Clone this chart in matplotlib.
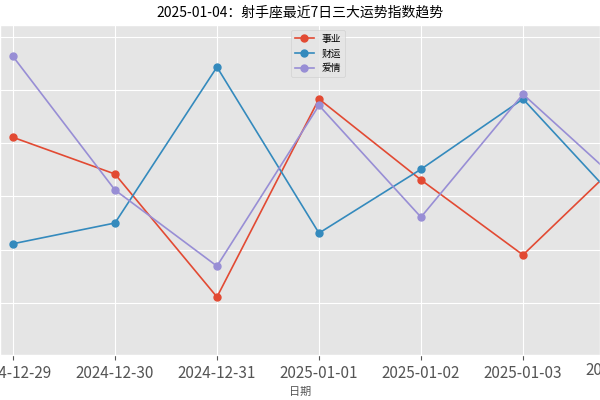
import matplotlib
matplotlib.use('Agg')
import matplotlib.pyplot as plt
import matplotlib.transforms as mtransforms

plt.style.use('ggplot')
plt.rcParams['font.family'] = ['Noto Sans CJK SC', 'DejaVu Sans']
plt.rcParams['axes.unicode_minus'] = False

dates = ['2024-12-29','2024-12-30','2024-12-31','2025-01-01','2025-01-02','2025-01-03','2025-01-04']
career = [91.1, 84.2, 61.1, 98.3, 83.1, 69.0, 87.4]
wealth = [71.1, 75.0, 104.3, 73.1, 85.1, 98.3, 77.6]
love = [106.3, 81.2, 66.9, 97.1, 76.1, 99.2, 81.8]

fig = plt.figure(figsize=(6, 4), dpi=100)
ax = fig.add_axes([0, 0.1125, 1.0, 0.825])
x = list(range(len(dates)))
for vals, lab in [(career, '事业'), (wealth, '财运'), (love, '爱情')]:
    ax.plot(x, vals, marker='o', markersize=5, linewidth=1.2, label=lab)
ax.set_xticks(x)
ax.set_xticklabels(dates, fontsize=11)
ax.set_xlim(-0.127, 5.755)
ax.set_ylim(50.2, 112.2)
ax.set_yticks([60, 70, 80, 90, 100, 110])
# last tick label lies beyond the visible x range; draw it so it shows partly as in reference
trans = mtransforms.blended_transform_factory(ax.transData, ax.transAxes)
ax.text(x[-1], -0.02, dates[-1], transform=trans, ha='center', va='top',
        fontsize=11, color='#555555', clip_on=False)
ax.set_xlabel('日期', fontsize=8)
ax.set_title('2025-01-04：射手座最近7日三大运势指数趋势', fontsize=10)
ax.legend(loc='upper center', bbox_to_anchor=(0.53, 1.0), fontsize=7)
fig.savefig('out.png')
